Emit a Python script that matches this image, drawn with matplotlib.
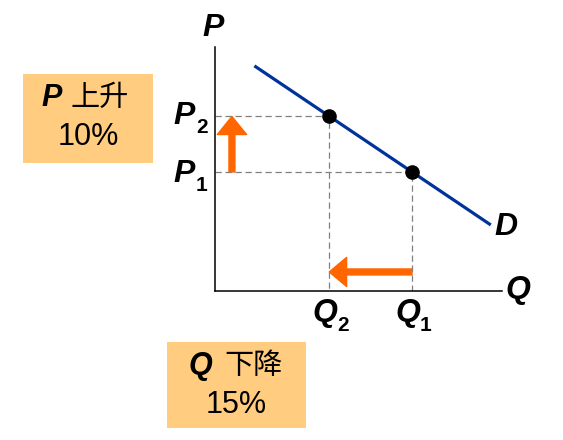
import matplotlib.pyplot as plt
from matplotlib.patches import Rectangle, FancyArrowPatch

# demand curve and the two points (arbitrary units)
demand_q = [2.0, 14.0]
demand_p = [11.35, 3.33]
q1, p1 = 10.0, 6.0
q2, p2 = 5.8, 8.8
box_p = ["P", "上升", "10%"]
box_q = ["Q", "下降", "15%"]

W, H = 563, 440
fig = plt.figure(figsize=(W / 100, H / 100), dpi=100)

def fx(px):
    return px / W

def fy(py):
    return 1 - py / H

ax = fig.add_axes([fx(215), fy(291), (502 - 215) / W, (291 - 47) / H])
ax.set_xlim(0, 14.57)
ax.set_ylim(0, 12.3)
for s in ["top", "right"]:
    ax.spines[s].set_visible(False)
for s in ["left", "bottom"]:
    ax.spines[s].set_linewidth(1.1)
ax.set_xticks([])
ax.set_yticks([])
ax.patch.set_alpha(0)

lab = dict(family="Liberation Sans", weight="bold", style="italic", fontsize=23)
sub = dict(family="Liberation Sans", weight="bold", fontsize=15)

# dashed guides
ax.plot([0, q2, q2], [p2, p2, 0], "--", color="#808080", lw=0.9, dashes=(5, 3))
ax.plot([0, q1, q1], [p1, p1, 0], "--", color="#808080", lw=0.9, dashes=(5, 3))

# demand line and points
ax.plot(demand_q, demand_p, color="#003399", lw=2.3, solid_capstyle="butt")
ax.plot([q2, q1], [p2, p1], "o", color="black", ms=9.5)

orange = "#FF6600"
ax.add_patch(FancyArrowPatch((0.86, p1), (0.86, p2), arrowstyle="simple,head_width=21,head_length=13,tail_width=4.3",
                             color=orange, shrinkA=0, shrinkB=0, mutation_scale=1))
ax.add_patch(FancyArrowPatch((q1, 0.96), (q2, 0.96), arrowstyle="simple,head_width=21,head_length=12.5,tail_width=4.3",
                             color=orange, shrinkA=0, shrinkB=0, mutation_scale=1))

# tick-like labels
for val, name, dy in [(p2, "2", 0), (p1, "1", -1.5)]:
    ax.annotate("P", (0, val), xytext=(-22, dy), textcoords="offset points", ha="center", va="center", **lab)
    ax.annotate(name, (0, val), xytext=(-9.5, dy - 8), textcoords="offset points", ha="center", va="center", **sub)
for val, name in [(q2, "2"), (q1, "1")]:
    ax.annotate("Q", (val, 0), xytext=(-3, -16), textcoords="offset points", ha="center", va="center", **lab)
    ax.annotate(name, (val, 0), xytext=(10, -24.5), textcoords="offset points", ha="center", va="center", **sub)

fig.text(fx(213), fy(28), "P", ha="center", va="center", **lab)
fig.text(fx(518), fy(290), "Q", ha="center", va="center", **lab)
fig.text(fx(506), fy(227), "D", ha="center", va="center", **lab)

# boxes
boxc = "#FFCC80"
fig.add_artist(Rectangle((fx(23), fy(163)), (153 - 23) / W, (163 - 74) / H, transform=fig.transFigure,
                         facecolor=boxc, edgecolor="none"))
fig.add_artist(Rectangle((fx(167), fy(428)), (306 - 167) / W, (428 - 342) / H, transform=fig.transFigure,
                         facecolor=boxc, edgecolor="none"))

cjk = dict(family="Noto Sans CJK SC", weight="light", fontsize=21)
txt = dict(family="Liberation Sans", fontsize=22)
blab = dict(lab, fontsize=22)
fig.text(fx(52), fy(98), box_p[0], ha="center", va="center", **blab)
fig.text(fx(100), fy(98), box_p[1], ha="center", va="center", **cjk)
fig.text(fx(88), fy(137), box_p[2], ha="center", va="center", **txt)
fig.text(fx(200), fy(366), box_q[0], ha="center", va="center", **blab)
fig.text(fx(254), fy(366), box_q[1], ha="center", va="center", **cjk)
fig.text(fx(236), fy(405), box_q[2], ha="center", va="center", **txt)

fig.savefig("out.png", dpi=100)
